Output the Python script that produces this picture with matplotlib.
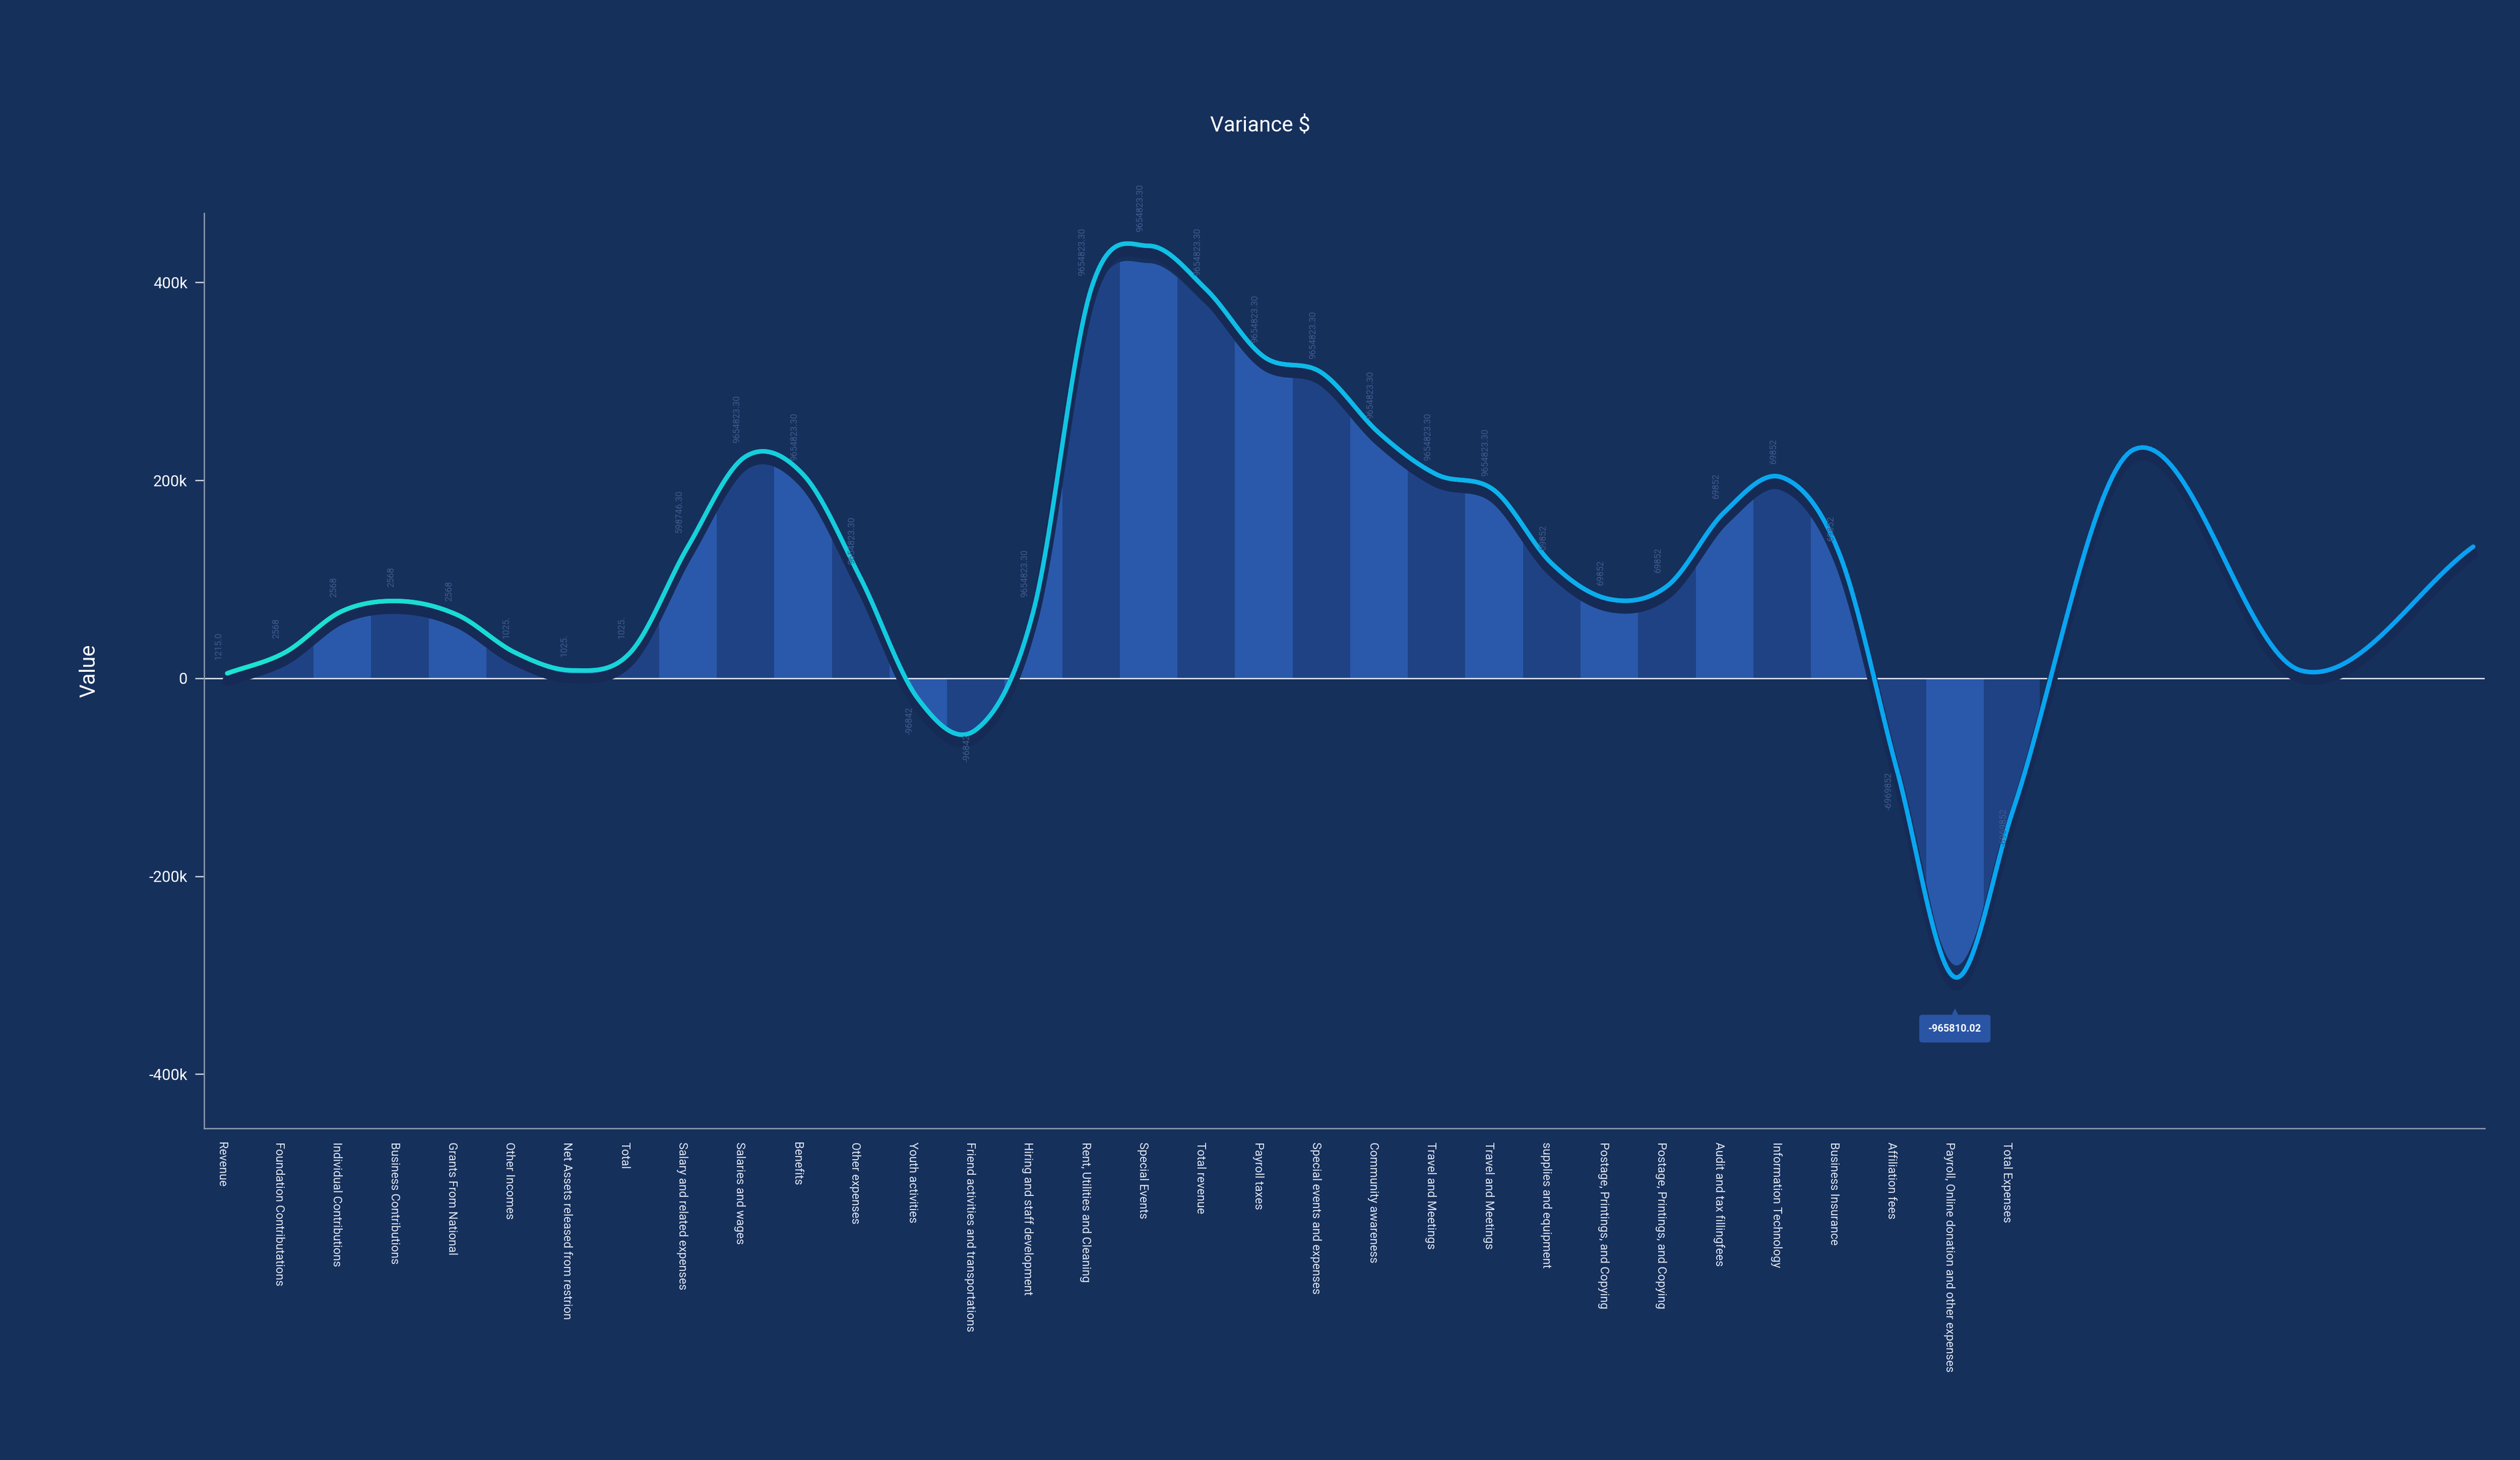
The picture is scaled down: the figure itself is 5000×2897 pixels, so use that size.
import numpy as np
import matplotlib
matplotlib.use("Agg")
import matplotlib.pyplot as plt
from matplotlib.collections import LineCollection
from matplotlib.colors import LinearSegmentedColormap
from matplotlib.patches import Polygon

plt.rcParams['font.family'] = ['Liberation Sans Narrow', 'Roboto', 'DejaVu Sans']
plt.rcParams['font.stretch'] = 'condensed'

categories = ["Revenue", "Foundation Contributations", "Individual Contributions", "Business Contributions",
              "Grants From National", "Other Incomes", "Net Assets released from restrion", "Total",
              "Salary and related expenses", "Salaries and wages", "Benefits", "Other expenses",
              "Youth activities", "Friend activities and transportations", "Hiring and staff development",
              "Rent, Utilities and Cleaning", "Special Events", "Total revenue", "Payroll taxes",
              "Special events and expenses", "Community awareness", "Travel and Meetings", "Travel and Meetings",
              "supplies and equipment", "Postage, Printings, and Copying", "Postage, Printings, and Copying",
              "Audit and tax fillingfees", "Information Technology", "Business Insurance", "Affiliation fees",
              "Payroll, Online donation and other expenses", "Total Expenses"]
values = [5e3, 26e3, 68e3, 78e3, 64e3, 26e3, 8e3, 26e3, 133e3, 224e3, 206e3, 101e3, -21e3, -52e3, 68e3,
          393e3, 437e3, 393e3, 325e3, 309e3, 248e3, 206e3, 190e3, 116e3, 80e3, 93e3, 168e3, 203e3, 125e3,
          -94e3, -302e3, -135e3]
extra_x = [33.1, 36.0, 39.0]
extra_values = [231e3, 8e3, 133e3]
value_labels = ["1215.0", "2568", "2568", "2568", "2568", "1025.", "1025.", "1025.", "598746.30",
                "9654823.30", "9654823.30", "9654823.30", "-96842", "-96842", "9654823.30", "9654823.30",
                "9654823.30", "9654823.30", "9654823.30", "9654823.30", "9654823.30", "9654823.30",
                "9654823.30", "69852", "69852", "69852", "69852", "69852", "69852", "-6969852", "", "-6969852"]
tooltip_text = "-965810.02"
tooltip_index = 30
yticks = [-400e3, -200e3, 0, 200e3, 400e3]
ytick_labels = ["-400k", "-200k", "0", "200k", "400k"]

BG = "#16305c"
xs = np.concatenate([np.arange(len(values), dtype=float), extra_x])
ys = np.concatenate([values, extra_values])

def catmull(x, y, n=40):
    X, Y = [], []
    for i in range(len(x) - 1):
        x0, x1 = x[i], x[i + 1]
        y0, y1 = y[i], y[i + 1]
        m0 = (y[i + 1] - y[i - 1]) / (x[i + 1] - x[i - 1]) if i > 0 else (y1 - y0) / (x1 - x0)
        m1 = (y[i + 2] - y[i]) / (x[i + 2] - x[i]) if i + 2 < len(x) else (y1 - y0) / (x1 - x0)
        t = np.linspace(0, 1, n, endpoint=False)
        h = x1 - x0
        h00 = 2*t**3 - 3*t**2 + 1; h10 = t**3 - 2*t**2 + t
        h01 = -2*t**3 + 3*t**2; h11 = t**3 - t**2
        X.append(x0 + t*h)
        Y.append(h00*y0 + h10*h*m0 + h01*y1 + h11*h*m1)
    X.append([x[-1]]); Y.append([y[-1]])
    return np.concatenate(X), np.concatenate(Y)

sx, sy = catmull(xs, ys)

fig = plt.figure(figsize=(5000/319, 2897/319), dpi=319, facecolor=BG)
ax = fig.add_axes([0.081, 0.227, 0.905, 0.627], facecolor=BG)
ax.set_xlim(-0.4, 39.2)
ax.set_ylim(-455e3, 470e3)

n = len(values)
mask = (sx >= -0.5) & (sx <= n - 0.5)
fx, fy = sx[mask], sy[mask] * 0.96
poly = Polygon(np.column_stack([np.r_[fx[0], fx, fx[-1]], np.r_[0, fy, 0]]), closed=True,
               facecolor="none", edgecolor="none")
ax.add_patch(poly)
for i in range(n):
    c = "#2a59ab" if i % 2 == 0 else "#1f4285"
    r = ax.axvspan(i - 0.5, i + 0.5, color=c, zorder=1, lw=0)
    r.set_clip_path(poly)

ax.axhline(0, color="#dfe6f0", lw=0.6, zorder=2)

ax.plot(sx, sy - 8e3, color="#152b55", lw=4.5, zorder=3, solid_capstyle="round")
pts = np.column_stack([sx, sy]).reshape(-1, 1, 2)
segs = np.concatenate([pts[:-1], pts[1:]], axis=1)
cmap = LinearSegmentedColormap.from_list("g", ["#1de3cf", "#12c8e0", "#0aa8f0", "#0aa0f2"])
lc = LineCollection(segs, cmap=cmap, lw=2.0, zorder=4, capstyle="round")
lc.set_array(sx[:-1])
ax.add_collection(lc)

for i, (v, lab) in enumerate(zip(values, value_labels)):
    if not lab:
        continue
    if v >= 0:
        ax.text(i - 0.15, v + 14e3, lab, rotation=90, ha="center", va="bottom", fontsize=4.0,
                color="#3e5b8c", zorder=5)
    else:
        ax.text(i - 0.15, v * 0.9 - 10e3, lab, rotation=90, ha="center", va="top", fontsize=4.0,
                color="#3e5b8c", zorder=5)

tv = values[tooltip_index]
ax.plot([tooltip_index], [tv - 36e3], marker="^", ms=4, color="#2a55a5", zorder=6, mec="none")
ax.text(tooltip_index, tv - 52e3, tooltip_text, ha="center", va="center", fontsize=4.5,
        color="white", fontweight="bold", zorder=7,
        bbox=dict(boxstyle="round,pad=0.9,rounding_size=0.3", fc="#2a55a5", ec="none"))

ax.set_yticks(yticks)
ax.set_yticklabels(ytick_labels, color="white", fontsize=7)
ax.set_xticks(range(n))
ax.set_xticklabels(categories, rotation=270, ha="left", va="top", fontsize=5.3, color="#dfe6f0",
                   rotation_mode="anchor")
ax.tick_params(axis="x", length=0, pad=6)
ax.tick_params(axis="y", length=4, color="#c8d0dc", width=0.6)
for s in ["top", "right"]:
    ax.spines[s].set_visible(False)
ax.spines["left"].set_color("#8e9bb0"); ax.spines["left"].set_linewidth(0.6)
ax.spines["bottom"].set_color("#8e9bb0"); ax.spines["bottom"].set_linewidth(0.6)
ax.set_ylabel("Value", color="white", fontsize=9.5, labelpad=22)
fig.text(0.5, 0.914, "Variance $", ha="center", va="center", color="white", fontsize=9.5)

fig.savefig("out.png", dpi=319, facecolor=BG)
